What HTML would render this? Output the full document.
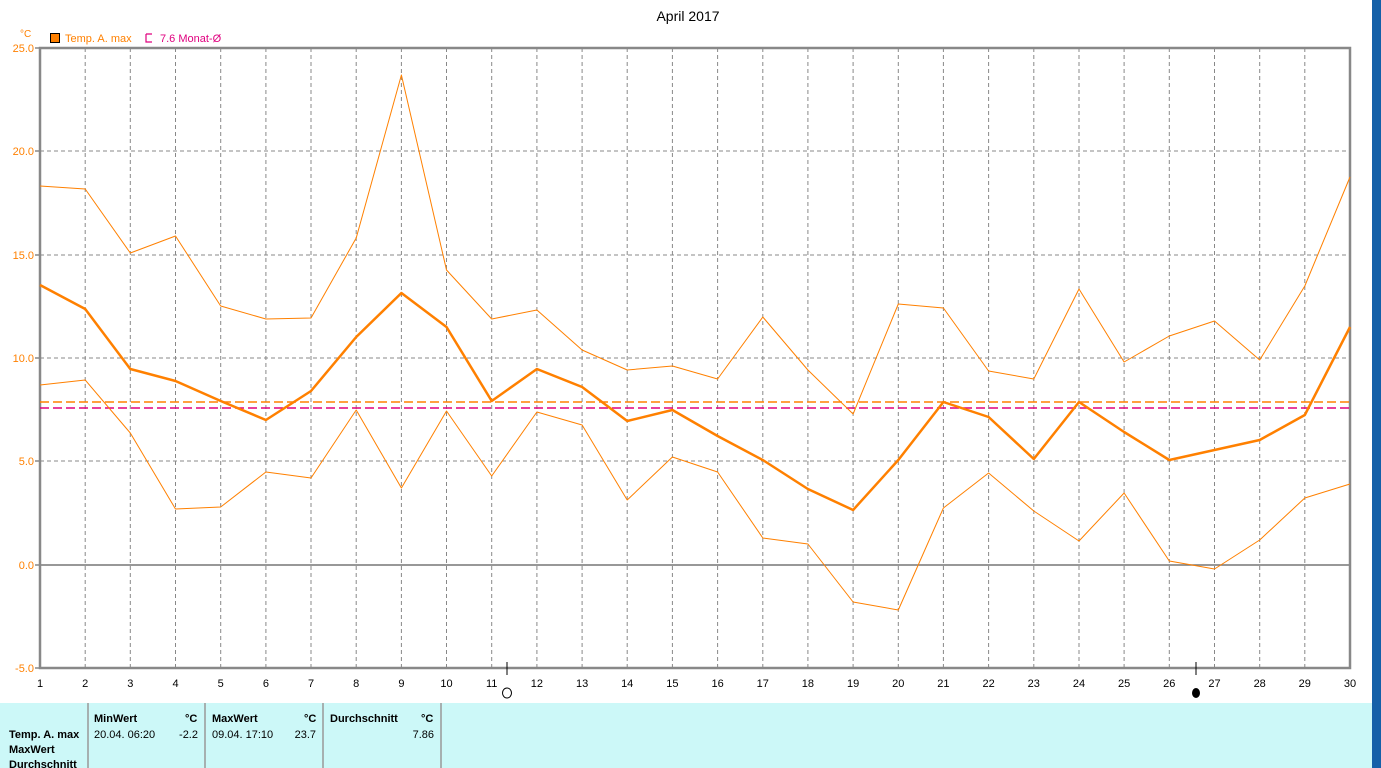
<!DOCTYPE html><html><head><meta charset="utf-8"><style>
body{margin:0;width:1381px;height:768px;overflow:hidden;background:#fff;font-family:"Liberation Sans",sans-serif}
</style></head><body>
<svg width="1381" height="768" xmlns="http://www.w3.org/2000/svg" style="position:absolute;left:0;top:0">
<rect x="1372" y="0" width="9" height="768" fill="#1560a8"/>
<rect x="0" y="703" width="1372" height="65" fill="#ccf8f8"/>
<g stroke="#999" stroke-width="1.5"><line x1="88" y1="703" x2="88" y2="768"/><line x1="205" y1="703" x2="205" y2="768"/><line x1="323" y1="703" x2="323" y2="768"/><line x1="441" y1="703" x2="441" y2="768"/></g>
<g font-size="11" font-weight="bold" fill="#000">
<text x="94" y="722">MinWert</text><text x="185" y="722">°C</text>
<text x="212" y="722">MaxWert</text><text x="304" y="722">°C</text>
<text x="330" y="722">Durchschnitt</text><text x="421" y="722">°C</text>
<text x="9" y="738">Temp. A. max</text><text x="9" y="753">MaxWert</text><text x="9" y="768">Durchschnitt</text>
</g>
<g font-size="11" fill="#000">
<text x="94" y="738">20.04.  06:20</text><text x="198" y="738" text-anchor="end">-2.2</text>
<text x="212" y="738">09.04.  17:10</text><text x="316" y="738" text-anchor="end">23.7</text>
<text x="434" y="738" text-anchor="end">7.86</text>
</g>
<text x="688" y="21" font-size="14" text-anchor="middle">April 2017</text>
<text x="20" y="37" font-size="10" fill="#ff8000">°C</text>
<rect x="50.5" y="33.5" width="9" height="9" fill="#ff8000" stroke="#000"/>
<text x="65" y="42" font-size="11" fill="#ff8000">Temp. A. max</text>
<path d="M146 34H152M146 34V42H152" fill="none" stroke="#e0007f" stroke-width="1.2"/>
<text x="160" y="42" font-size="11" fill="#e0007f">7.6 Monat-Ø</text>
<g stroke="#888" stroke-dasharray="4,3" stroke-width="1">
<line x1="40" y1="151" x2="1350" y2="151"/><line x1="40" y1="255" x2="1350" y2="255"/><line x1="40" y1="358" x2="1350" y2="358"/><line x1="40" y1="461" x2="1350" y2="461"/>
<line x1="85.2" y1="48" x2="85.2" y2="668"/><line x1="130.3" y1="48" x2="130.3" y2="668"/><line x1="175.5" y1="48" x2="175.5" y2="668"/><line x1="220.7" y1="48" x2="220.7" y2="668"/><line x1="265.9" y1="48" x2="265.9" y2="668"/><line x1="311" y1="48" x2="311" y2="668"/><line x1="356.2" y1="48" x2="356.2" y2="668"/><line x1="401.4" y1="48" x2="401.4" y2="668"/><line x1="446.5" y1="48" x2="446.5" y2="668"/><line x1="491.7" y1="48" x2="491.7" y2="668"/><line x1="536.9" y1="48" x2="536.9" y2="668"/><line x1="582.1" y1="48" x2="582.1" y2="668"/><line x1="627.2" y1="48" x2="627.2" y2="668"/><line x1="672.4" y1="48" x2="672.4" y2="668"/><line x1="717.6" y1="48" x2="717.6" y2="668"/><line x1="762.8" y1="48" x2="762.8" y2="668"/><line x1="807.9" y1="48" x2="807.9" y2="668"/><line x1="853.1" y1="48" x2="853.1" y2="668"/><line x1="898.3" y1="48" x2="898.3" y2="668"/><line x1="943.4" y1="48" x2="943.4" y2="668"/><line x1="988.6" y1="48" x2="988.6" y2="668"/><line x1="1033.8" y1="48" x2="1033.8" y2="668"/><line x1="1079" y1="48" x2="1079" y2="668"/><line x1="1124.1" y1="48" x2="1124.1" y2="668"/><line x1="1169.3" y1="48" x2="1169.3" y2="668"/><line x1="1214.5" y1="48" x2="1214.5" y2="668"/><line x1="1259.7" y1="48" x2="1259.7" y2="668"/><line x1="1304.8" y1="48" x2="1304.8" y2="668"/>
</g>
<line x1="40" y1="565" x2="1350" y2="565" stroke="#777" stroke-width="1.5"/>
<rect x="40" y="48" width="1310" height="620" fill="none" stroke="#888" stroke-width="2.5"/>
<g stroke="#888" stroke-width="1.5"><line x1="35" y1="48" x2="40" y2="48"/><line x1="35" y1="151" x2="40" y2="151"/><line x1="35" y1="255" x2="40" y2="255"/><line x1="35" y1="358" x2="40" y2="358"/><line x1="35" y1="461" x2="40" y2="461"/><line x1="35" y1="565" x2="40" y2="565"/><line x1="35" y1="668" x2="40" y2="668"/></g>
<g font-size="11" fill="#ff8000" text-anchor="end"><text x="34" y="52">25.0</text><text x="34" y="155">20.0</text><text x="34" y="259">15.0</text><text x="34" y="362">10.0</text><text x="34" y="465">5.0</text><text x="34" y="569">0.0</text><text x="34" y="672">-5.0</text></g>
<g font-size="11" fill="#000" text-anchor="middle">
<text x="40" y="687">1</text><text x="85.2" y="687">2</text><text x="130.3" y="687">3</text><text x="175.5" y="687">4</text><text x="220.7" y="687">5</text><text x="265.9" y="687">6</text><text x="311" y="687">7</text><text x="356.2" y="687">8</text><text x="401.4" y="687">9</text><text x="446.5" y="687">10</text><text x="491.7" y="687">11</text><text x="536.9" y="687">12</text><text x="582.1" y="687">13</text><text x="627.2" y="687">14</text><text x="672.4" y="687">15</text><text x="717.6" y="687">16</text><text x="762.8" y="687">17</text><text x="807.9" y="687">18</text><text x="853.1" y="687">19</text><text x="898.3" y="687">20</text><text x="943.4" y="687">21</text><text x="988.6" y="687">22</text><text x="1033.8" y="687">23</text><text x="1079" y="687">24</text><text x="1124.1" y="687">25</text><text x="1169.3" y="687">26</text><text x="1214.5" y="687">27</text><text x="1259.7" y="687">28</text><text x="1304.8" y="687">29</text><text x="1350" y="687">30</text>
</g>
<line x1="507" y1="662" x2="507" y2="675" stroke="#000"/><line x1="1196" y1="662" x2="1196" y2="675" stroke="#000"/>
<ellipse cx="507" cy="693" rx="4.5" ry="5" fill="none" stroke="#000"/>
<ellipse cx="1196" cy="693" rx="4" ry="5" fill="#000"/>
<line x1="40" y1="402" x2="1350" y2="402" stroke="#ff8000" stroke-width="1.5" stroke-dasharray="9,4"/>
<line x1="40" y1="408" x2="1350" y2="408" stroke="#e0007f" stroke-width="1.5" stroke-dasharray="9,4"/>
<g fill="none" stroke="#ff8000" stroke-linejoin="round">
<polyline stroke-width="1" points="40,186 85.2,189 130.3,253 175.5,236 220.7,306 265.9,319 311,318 356.2,238 401.4,75 446.5,270 491.7,319 536.9,310 582.1,350 627.2,370 672.4,366 717.6,379 762.8,317 807.9,370 853.1,414 898.3,304 943.4,308 988.6,371 1033.8,379 1079,289 1124.1,362 1169.3,336 1214.5,321 1259.7,360 1304.8,286 1350,177"/>
<polyline stroke-width="1" points="40,385 85.2,380 130.3,433 175.5,509 220.7,507 265.9,472 311,478 356.2,410 401.4,488 446.5,411 491.7,476 536.9,412 582.1,425 627.2,500 672.4,457 717.6,472 762.8,538 807.9,544 853.1,602 898.3,610 943.4,508 988.6,473 1033.8,511 1079,541 1124.1,493 1169.3,561 1214.5,569 1259.7,540 1304.8,498 1350,484"/>
<polyline stroke-width="2.5" points="40,285 85.2,309 130.3,369 175.5,381 220.7,401 265.9,420 311,391 356.2,337 401.4,293 446.5,327 491.7,401 536.9,369 582.1,387 627.2,421 672.4,410 717.6,436 762.8,460 807.9,489 853.1,510 898.3,460 943.4,402 988.6,417 1033.8,459 1079,402 1124.1,432 1169.3,460 1214.5,450 1259.7,440 1304.8,415 1350,327"/>
</g>
</svg>
</body></html>
